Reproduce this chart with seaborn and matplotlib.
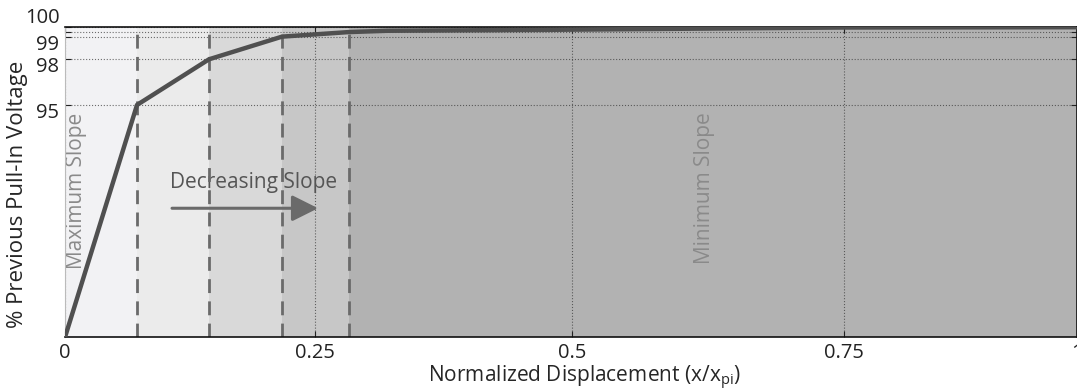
import numpy as np
import pandas as pd
import matplotlib
matplotlib.use("Agg")
import matplotlib.pyplot as plt
import matplotlib.transforms as mtransforms
import seaborn as sns

# datos
disp = [0.0, 0.072, 0.144, 0.217, 0.283, 0.32, 0.47, 0.61, 0.75, 1.0]
volt = [0.0, 95.0, 98.0, 99.0, 99.46, 99.59, 99.68, 99.80, 99.92, 99.95]
bounds = [0.0, 0.072, 0.144, 0.217, 0.283, 1.0]
band_colors = ["#f2f2f4", "#ebebeb", "#d9d9d9", "#c7c7c7", "#b2b2b2"]
xticks = [0, 0.25, 0.5, 0.75, 1]
xticklabels = ["0", "0.25", "0.5", "0.75", "1"]
yticks = [95, 98, 99, 99.5, 100]
yticklabels = ["95", "98", "99", "", "100"]

df = pd.DataFrame({"x": disp, "y": volt})

# escalas no lineales (piecewise) como en la figura original
xk = [-1.0, 0.0, 0.25, 0.5, 0.75, 1.0, 2.0]
xp = [-1.0, 0.0, 0.247, 0.501, 0.770, 1.0, 2.0]
yk = [-100.0, 0.0, 95.0, 98.0, 99.0, 100.0, 200.0]
yp = [-0.787, 0.0, 0.748, 0.895, 0.968, 1.0, 4.0]

def fx(v): return np.interp(v, xk, xp)
def ix(v): return np.interp(v, xp, xk)
def fy(v): return np.interp(v, yk, yp)
def iy(v): return np.interp(v, yp, yk)

sns.set_style("ticks")
plt.rcParams["font.family"] = ["Open Sans", "DejaVu Sans"]
plt.rcParams["mathtext.default"] = "regular"

fig = plt.figure(figsize=(10.77, 3.91), dpi=100)
ax = fig.add_axes([0.0604, 0.138, 0.9396, 0.7937])
ax.set_xscale("function", functions=(fx, ix))
ax.set_yscale("function", functions=(fy, iy))

for i in range(len(band_colors)):
    ax.axvspan(bounds[i], bounds[i + 1], color=band_colors[i], lw=0, zorder=0)

ax.set_xticks(xticks)
ax.set_xticklabels(xticklabels)
ax.set_yticks(yticks)
ax.set_yticklabels(yticklabels)
ax.minorticks_off()
ax.grid(True, color="#333333", ls=":", lw=0.8, alpha=0.7, zorder=1)

for b in bounds[1:-1]:
    ax.axvline(b, color="#6a6a6a", lw=2, dashes=(5, 3), zorder=2)

sns.lineplot(data=df, x="x", y="y", color="#505050", lw=3.2, ax=ax, zorder=3)

ax.set_xlim(0, 1)
ax.set_ylim(0, 100)

trans = mtransforms.blended_transform_factory(ax.transData, ax.transAxes)
ax.text(0.011, 0.47, "Maximum Slope", rotation=90, color="#8a8a8a", fontsize=15,
        ha="center", va="center", transform=trans, zorder=2)
ax.text(0.622, 0.48, "Minimum Slope", rotation=90, color="#8a8a8a", fontsize=15,
        ha="center", va="center", transform=trans, zorder=2)
ax.text(0.189, 0.497, "Decreasing Slope", color="#555555", fontsize=15,
        ha="center", va="center", transform=trans, zorder=1.5)
ax.annotate("", xy=(0.253, 0.415), xytext=(0.107, 0.415), xycoords=trans, textcoords=trans,
            arrowprops=dict(arrowstyle="-|>,head_length=1.6,head_width=0.8",
                            color="#6a6a6a", lw=2.2, shrinkA=0, shrinkB=0), zorder=2)

ax.tick_params(direction="in", length=4, width=0.8, top=True, right=True,
               labelsize=14.5, pad=4, colors="#222222")
ax.spines["left"].set_color("#bbbbbb")
for s in ["top", "bottom", "right"]:
    ax.spines[s].set_color("#111111")
    ax.spines[s].set_linewidth(1.2)

# desplazar etiquetas del eje y como en el original
for lab, t in zip(ax.get_yticklabels(), yticks):
    dy = 8 / 72 if t == 100 else -4 / 72
    lab.set_transform(lab.get_transform() + mtransforms.ScaledTranslation(0, dy, fig.dpi_scale_trans))

ax.set_xlabel("Normalized Displacement (x/x$_{pi}$)", fontsize=15)
ax.set_ylabel("% Previous Pull-In Voltage", fontsize=16)
ax.xaxis.set_label_coords(0.513, -0.087)
ax.yaxis.set_label_coords(-0.037, 0.461)

fig.savefig("out.png", dpi=100)
